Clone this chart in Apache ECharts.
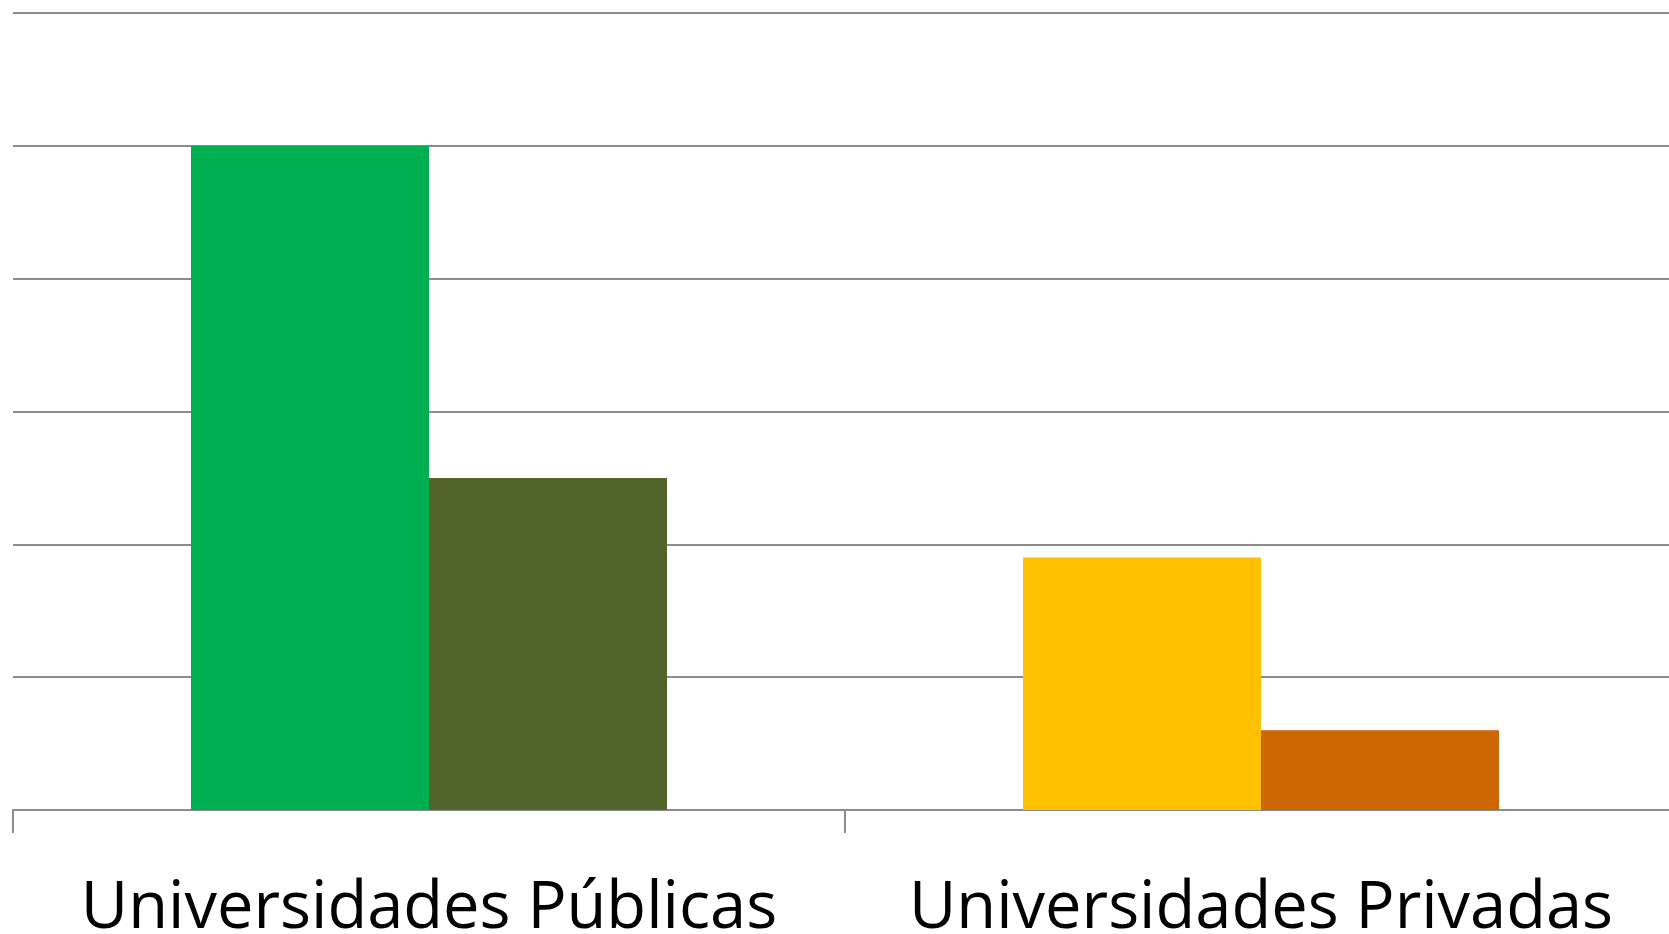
<!DOCTYPE html>
<html>
<head>
<meta charset="utf-8">
<script src="https://cdn.jsdelivr.net/npm/echarts@6/dist/echarts.min.js"></script>
<style>
  html, body { margin: 0; padding: 0; background: #fff; }
  #chart { width: 1669px; height: 934px; }
</style>
</head>
<body>
<div id="chart"></div>
<script>
    // datos
    var categorias = ['Universidades Públicas', 'Universidades Privadas'];
    var serieA = [5, 1.9];
    var serieB = [2.5, 0.6];
    var coloresA = ['#00AF50', '#FFC000'];
    var coloresB = ['#51652B', '#CC6600'];

    var myChart = echarts.init(document.getElementById('chart'));

    function pintar(valores, colores) {
        return valores.map(function (v, i) {
            return { value: v, itemStyle: { color: colores[i] } };
        });
    }

    var option = {
        animation: false,
        grid: {
            left: 13,
            top: 13,
            width: 1664,
            bottom: 124,
            containLabel: false,
            outerBoundsMode: 'none'
        },
        xAxis: {
            type: 'category',
            data: categorias,
            axisLine: { lineStyle: { color: '#8c8c8c', width: 2 } },
            axisTick: { show: true, interval: 0, length: 23, lineStyle: { color: '#8c8c8c', width: 2 } },
            axisLabel: {
                interval: 0,
                hideOverlap: false,
                margin: 67,
                fontFamily: 'Open Sans',
                fontSize: 65,
                color: '#000'
            }
        },
        yAxis: {
            type: 'value',
            min: 0,
            max: 6,
            interval: 1,
            axisLabel: { show: false },
            axisLine: { show: false },
            axisTick: { show: false },
            splitLine: { lineStyle: { color: '#8c8c8c', width: 2 } }
        },
        series: [
            {
                type: 'bar',
                barWidth: 238,
                barGap: '0%',
                data: pintar(serieA, coloresA)
            },
            {
                type: 'bar',
                barWidth: 238,
                barGap: '0%',
                data: pintar(serieB, coloresB)
            }
        ]
    };

    myChart.setOption(option);
</script>
</body>
</html>
